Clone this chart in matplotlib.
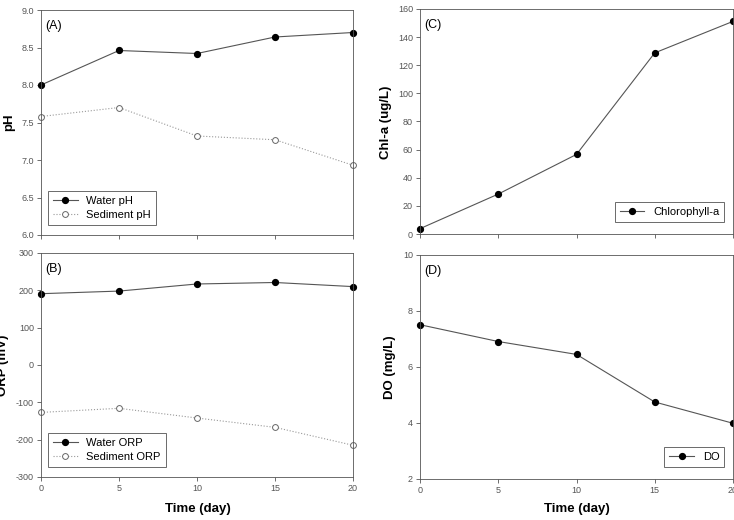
import matplotlib
matplotlib.use("Agg")
import matplotlib.pyplot as plt
from matplotlib.ticker import FormatStrFormatter

plt.rcParams["font.family"] = ["Liberation Sans", "DejaVu Sans"]
plt.rcParams["axes.unicode_minus"] = False

days = [0, 5, 10, 15, 20]
water_ph = [8.00, 8.46, 8.42, 8.64, 8.70]
sediment_ph = [7.58, 7.70, 7.32, 7.27, 6.93]
water_orp = [191, 198, 217, 221, 210]
sediment_orp = [-127, -116, -142, -167, -215]
chla = [3.8, 28.4, 56.6, 128.8, 151.2]
do = [7.51, 6.91, 6.45, 4.75, 3.99]

W, H = 734, 520
fig = plt.figure(figsize=(W / 100, H / 100), dpi=100)


def px_axes(left, right, top, bottom):
    return fig.add_axes([left / W, (H - bottom) / H, (right - left) / W, (bottom - top) / H])


def style(ax, ylim, yticks, show_xlabels):
    ax.set_xlim(0, 20)
    ax.set_ylim(*ylim)
    ax.set_yticks(yticks)
    ax.set_xticks(days)
    ax.tick_params(direction="out", length=3, width=0.6, colors="#555555",
                   labelsize=6.5, pad=2)
    if not show_xlabels:
        ax.set_xticklabels([])
    for s in ax.spines.values():
        s.set_linewidth(0.6)
        s.set_color("#555555")


solid = dict(color="#555555", lw=0.8, marker="o", ms=4.2,
             mfc="black", mec="black", clip_on=False)
dotted = dict(color="#999999", lw=0.8, ls=":", marker="o", ms=4.2,
              mfc="white", mec="#666666", mew=0.7, clip_on=False)
leg_kw = dict(fontsize=8, frameon=True, fancybox=False, edgecolor="#444444",
              handlelength=2.2, borderpad=0.45, labelspacing=0.35)

# (A) pH
ax = px_axes(41, 353, 10, 235)
ax.plot(days, water_ph, label="Water pH", **solid)
ax.plot(days, sediment_ph, label="Sediment pH", **dotted)
style(ax, (6.0, 9.0), [6.0, 6.5, 7.0, 7.5, 8.0, 8.5, 9.0], False)
ax.yaxis.set_major_formatter(FormatStrFormatter("%.1f"))
ax.text(0.015, 0.915, "(A)", transform=ax.transAxes, fontsize=9)
leg = ax.legend(loc="lower left", bbox_to_anchor=(0.005, 0.02), **leg_kw)
leg.get_frame().set_linewidth(0.7)

# (B) ORP
ax = px_axes(41, 353, 253, 477)
ax.plot(days, water_orp, label="Water ORP", **solid)
ax.plot(days, sediment_orp, label="Sediment ORP", **dotted)
style(ax, (-300, 300), [-300, -200, -100, 0, 100, 200, 300], True)
ax.text(0.015, 0.915, "(B)", transform=ax.transAxes, fontsize=9)
leg = ax.legend(loc="lower left", bbox_to_anchor=(0.005, 0.02), **leg_kw)
leg.get_frame().set_linewidth(0.7)

# (C) Chl-a
ax = px_axes(420, 733, 9, 234)
ax.plot(days, chla, label="Chlorophyll-a", **solid)
style(ax, (0, 160), list(range(0, 161, 20)), False)
ax.text(0.015, 0.915, "(C)", transform=ax.transAxes, fontsize=9)
leg = ax.legend(loc="lower right", bbox_to_anchor=(0.99, 0.03), **leg_kw)
leg.get_frame().set_linewidth(0.7)

# (D) DO
ax = px_axes(420, 733, 255, 479)
ax.plot(days, do, label="DO", **solid)
style(ax, (2, 10), [2, 4, 6, 8, 10], True)
ax.text(0.015, 0.915, "(D)", transform=ax.transAxes, fontsize=9)
leg = ax.legend(loc="lower right", bbox_to_anchor=(0.99, 0.03), **leg_kw)
leg.get_frame().set_linewidth(0.7)

lab = dict(fontsize=9.5, fontweight="bold", rotation=90, ha="center", va="center")
fig.text(9 / W, 1 - 122 / H, "pH", **lab)
fig.text(3 / W, 1 - 365 / H, "ORP (mV)", **lab)
fig.text(386 / W, 1 - 122 / H, "Chl-a (ug/L)", **lab)
fig.text(390 / W, 1 - 367 / H, "DO (mg/L)", **lab)
xl = dict(fontsize=9.5, fontweight="bold", ha="center", va="center")
fig.text(198 / W, 1 - 509 / H, "Time (day)", **xl)
fig.text(577 / W, 1 - 509 / H, "Time (day)", **xl)

fig.savefig("out.png", dpi=100)
